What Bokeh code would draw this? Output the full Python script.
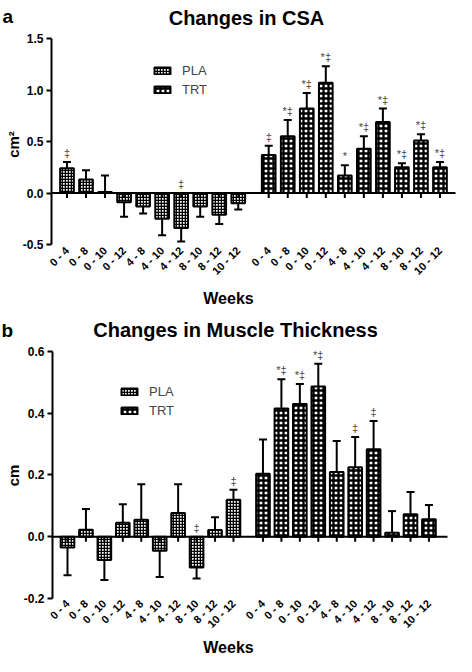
import math
from bokeh.plotting import figure
from bokeh.models import (Range1d, FixedTicker, NumeralTickFormatter, Label,
                          Legend, LegendItem)
from bokeh.layouts import column
from bokeh.embed import file_html
from bokeh.resources import INLINE
from bokeh.core.properties import value

# ---------------- data ----------------
weeks = ["0 - 4", "0 - 8", "0 - 10", "0 - 12", "4 - 8", "4 - 10", "4 - 12",
         "8 - 10", "8 - 12", "10 - 12"]
groups = ["PLA", "TRT"]

csa_pla = [0.24, 0.13, 0.01, -0.09, -0.13, -0.25, -0.34, -0.13, -0.21, -0.10]
csa_pla_err = [0.06, 0.09, 0.16, 0.14, 0.07, 0.16, 0.13, 0.10, 0.09, 0.06]
csa_trt = [0.37, 0.55, 0.82, 1.07, 0.17, 0.43, 0.69, 0.25, 0.51, 0.25]
csa_trt_err = [0.09, 0.16, 0.15, 0.16, 0.10, 0.12, 0.13, 0.04, 0.06, 0.05]
csa_pla_sig = ["‡", "", "", "", "", "", "‡", "", "", ""]
csa_trt_sig = ["‡", "*‡", "*‡", "*‡", "*", "*‡", "*‡", "*‡", "*‡", "*‡"]
csa_yticks = [-0.5, 0.0, 0.5, 1.0, 1.5]

mt_pla = [-0.035, 0.023, -0.075, 0.045, 0.055, -0.045, 0.077, -0.10, 0.022, 0.12]
mt_pla_err = [0.09, 0.067, 0.065, 0.06, 0.115, 0.085, 0.093, 0.035, 0.041, 0.032]
mt_trt = [0.204, 0.415, 0.43, 0.487, 0.21, 0.225, 0.283, 0.013, 0.073, 0.057]
mt_trt_err = [0.111, 0.095, 0.065, 0.073, 0.10, 0.098, 0.092, 0.07, 0.072, 0.046]
mt_pla_sig = ["", "", "", "", "", "", "", "‡", "", "‡"]
mt_trt_sig = ["", "*‡", "*‡", "*‡", "", "‡", "‡", "", "", ""]
mt_yticks = [-0.2, 0.0, 0.2, 0.4, 0.6]

FONT = "Liberation Sans"
GROUP_OFFSET = 10.6
STYLES = {
    "PLA": dict(hatch_pattern="cross", hatch_scale=3, hatch_weight=1.6),
    "TRT": dict(hatch_pattern="cross", hatch_scale=5, hatch_weight=2.3),
}


def make_panel(pla, pla_err, trt, trt_err, pla_sig, trt_sig, yticks, *,
               width, height, xr, yr, axis_x, axis_end, bar_w, letter, letter_xy,
               title, title_xy, ylabel, ylabel_xy, legend_xy,
               label_standoff, wk_standoff):
    p = figure(width=width, height=height, output_backend="svg",
               toolbar_location=None, title=None,
               x_range=Range1d(*xr), y_range=Range1d(*yr), min_border=0)
    p.outline_line_color = None
    p.xgrid.grid_line_color = None
    p.ygrid.grid_line_color = None
    p.background_fill_color = "white"

    px_per_unit = height / (yr[1] - yr[0])

    pla_x = list(range(len(weeks)))
    trt_x = [i + GROUP_OFFSET for i in range(len(weeks))]

    renderers = {}
    for name, xs, vals, errs, sig in (("PLA", pla_x, pla, pla_err, pla_sig),
                                       ("TRT", trt_x, trt, trt_err, trt_sig)):
        r = p.vbar(x=xs, top=vals, bottom=0, width=bar_w, fill_color="white",
                   line_color="black", line_width=2, hatch_color="black",
                   **STYLES[name])
        renderers[name] = r
        ends = [v + e if v >= 0 else v - e for v, e in zip(vals, errs)]
        p.segment(x0=xs, y0=vals, x1=xs, y1=ends, line_color="black", line_width=2)
        p.scatter(x=xs, y=ends, marker="dash", size=8, line_color="black",
                  line_width=2)
        sig_y = [v + e if v >= 0 else 0 for v, e in zip(vals, errs)]
        p.text(x=xs, y=sig_y, text=sig, text_align="center", text_baseline="bottom",
               y_offset=-3, text_font=value(FONT), text_font_size="11px",
               text_color="#444444")

    # zero line with small ticks under each bar
    p.segment(x0=[axis_x], y0=[0], x1=[axis_end], y1=[0], line_color="black",
              line_width=2)
    all_x = pla_x + trt_x
    tick_len = 5 / px_per_unit
    p.segment(x0=all_x, y0=[0] * len(all_x), x1=all_x, y1=[-tick_len] * len(all_x),
              line_color="black", line_width=2)

    # y axis (drawn at a fixed location inside the canvas)
    ya = p.yaxis[0]
    ya.fixed_location = axis_x
    ya.bounds = (yticks[0], yticks[-1])
    ya.ticker = FixedTicker(ticks=yticks)
    ya.formatter = NumeralTickFormatter(format="0.0")
    ya.axis_line_width = 2
    ya.major_tick_line_width = 2
    ya.major_tick_out = 5
    ya.major_tick_in = 0
    ya.minor_tick_out = 0
    ya.minor_tick_in = 0
    ya.major_label_text_font = FONT
    ya.major_label_text_font_style = "bold"
    ya.major_label_text_font_size = "12px"
    ya.major_label_text_color = "black"
    ya.major_label_standoff = 3

    # x axis: labels only, under the bottom of the value range
    xa = p.xaxis[0]
    xa.fixed_location = yticks[0]
    xa.ticker = FixedTicker(ticks=all_x)
    xa.major_label_overrides = {x: lbl for x, lbl in zip(all_x, weeks + weeks)}
    xa.axis_line_color = None
    xa.major_tick_line_color = None
    xa.major_tick_out = 0
    xa.major_tick_in = 0
    xa.minor_tick_out = 0
    xa.minor_tick_in = 0
    xa.major_label_orientation = math.pi / 4
    xa.major_label_text_font = FONT
    xa.major_label_text_font_style = "bold"
    xa.major_label_text_font_size = "11px"
    xa.major_label_text_color = "black"
    xa.major_label_standoff = label_standoff
    xa.axis_label = "Weeks"
    xa.axis_label_text_font = FONT
    xa.axis_label_text_font_style = "bold"
    xa.axis_label_text_font_size = "16px"
    xa.axis_label_text_color = "black"
    xa.axis_label_standoff = wk_standoff

    legend = Legend(items=[LegendItem(label=g, renderers=[renderers[g]]) for g in groups],
                    location=legend_xy, border_line_color=None,
                    background_fill_alpha=0, padding=0, margin=0, spacing=3,
                    glyph_width=20, glyph_height=9, label_height=16,
                    label_standoff=10, label_text_font=FONT,
                    label_text_font_size="13px")
    p.add_layout(legend)

    p.add_layout(Label(x=title_xy[0], y=title_xy[1], x_units="screen", y_units="screen",
                       text=title, text_align="center", text_baseline="alphabetic",
                       text_font=FONT, text_font_style="bold",
                       text_font_size="20px", text_color="black"))
    p.add_layout(Label(x=letter_xy[0], y=letter_xy[1], x_units="screen",
                       y_units="screen", text=letter, text_align="left",
                       text_baseline="alphabetic", text_font=FONT,
                       text_font_style="bold", text_font_size="19px",
                       text_color="black"))
    p.add_layout(Label(x=ylabel_xy[0], y=ylabel_xy[1], x_units="screen",
                       y_units="screen", text=ylabel, angle=math.pi / 2,
                       text_align="center", text_baseline="middle", text_font=FONT,
                       text_font_style="bold", text_font_size="15px",
                       text_color="black"))
    return p


pa = make_panel(csa_pla, csa_pla_err, csa_trt, csa_trt_err, csa_pla_sig, csa_trt_sig,
                csa_yticks, width=456, height=312,
                xr=(-3.494, 20.468), yr=(-1.160, 1.869), axis_x=-0.8145,
                axis_end=20.415, bar_w=0.72, letter="a", letter_xy=(2, 296),
                title="Changes in CSA", title_xy=(246, 295), ylabel="cm²",
                ylabel_xy=(13, 168), legend_xy=(152, 215),
                label_standoff=4, wk_standoff=6)

pb = make_panel(mt_pla, mt_pla_err, mt_trt, mt_trt_err, mt_pla_sig, mt_trt_sig,
                mt_yticks, width=456, height=344,
                xr=(-3.633, 21.095), yr=(-0.3879, 0.7263), axis_x=-0.8134,
                axis_end=20.607, bar_w=0.74, letter="b", letter_xy=(1, 326),
                title="Changes in Muscle Thickness", title_xy=(235, 327),
                ylabel="cm", ylabel_xy=(13, 181), legend_xy=(119, 238),
                label_standoff=3, wk_standoff=2)

layout = column(pa, pb)
open("out.html", "w").write(file_html(layout, INLINE))
